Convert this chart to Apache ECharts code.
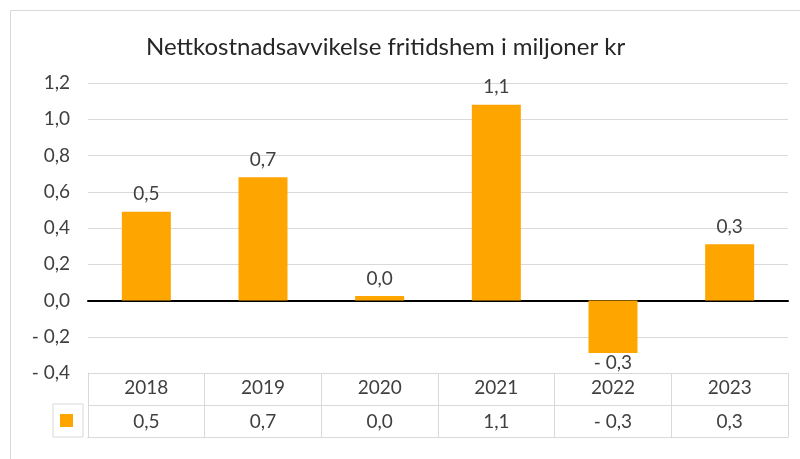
<!DOCTYPE html>
<html>
<head>
<meta charset="utf-8">
<script src="https://cdn.jsdelivr.net/npm/echarts@6/dist/echarts.min.js"></script>
<style>
  html, body { margin: 0; padding: 0; background: #fff; }
  #chart { width: 800px; height: 459px; }
</style>
</head>
<body>
<div id="chart"></div>
<script>
var years = ['2018', '2019', '2020', '2021', '2022', '2023'];
var values = [0.49, 0.68, 0.025, 1.08, -0.29, 0.31];
var yTicks = { min: -0.4, max: 1.2, step: 0.2 };

var FONT = 'Lato';
var TXT = '#404040';
var GRID = '#d9d9d9';
var BAR = '#FFA500';
var FS = 19;

// tall: "0,5", negative: "- 0,3"
function fmt(v) {
    var s = Math.abs(v).toFixed(1).replace('.', ',');
    return (v < -0.0001 ? '- ' : '') + s;
}

var myChart = echarts.init(document.getElementById('chart'));

var barData = values.map(function (v) {
    return { value: v, label: { position: v < 0 ? 'bottom' : 'top', distance: v < 0 ? 0 : 8 } };
});

var option = {
    backgroundColor: '#fff',
    animation: false,
    textStyle: { fontFamily: FONT },
    title: {
        text: 'Nettkostnadsavvikelse fritidshem i miljoner kr',
        left: 141,
        top: 30,
        textStyle: { fontFamily: FONT, fontSize: 24, fontWeight: 'normal', color: '#262626' }
    },
    legend: {
        left: 53,
        top: 404,
        padding: [10, 10, 10, 7],
        borderColor: GRID,
        borderWidth: 1,
        icon: 'rect',
        itemWidth: 13,
        itemHeight: 13,
        formatter: function () { return ''; },
        data: ['Netto']
    },
    graphic: [{
        type: 'rect',
        shape: { x: 10.5, y: 10.5, width: 820, height: 470 },
        style: { fill: 'none', stroke: GRID, lineWidth: 1 },
        silent: true
    }],
    grid: [
        { left: 88, right: 12, top: 83, bottom: 86 },
        { left: 88, right: 12, top: 373, height: 64 }
    ],
    xAxis: [
        {
            type: 'category', gridIndex: 0, data: years,
            axisLine: { onZero: true, lineStyle: { color: '#000', width: 2 } },
            axisTick: { show: false },
            axisLabel: { show: false }
        },
        {
            type: 'category', gridIndex: 1, data: years, position: 'top',
            axisLine: { show: true, lineStyle: { color: GRID } },
            axisTick: { show: false },
            splitLine: { show: true, lineStyle: { color: GRID } },
            axisLabel: { inside: true, margin: 5, fontSize: FS, color: TXT, fontFamily: FONT }
        },
        {
            type: 'category', gridIndex: 1, data: years, position: 'bottom',
            axisLine: { show: true, lineStyle: { color: GRID } },
            axisTick: { show: false },
            axisLabel: {
                inside: true, margin: 6, fontSize: FS, color: TXT, fontFamily: FONT,
                formatter: function (val, idx) { return fmt(values[idx]); }
            }
        }
    ],
    yAxis: [
        {
            type: 'value', gridIndex: 0,
            min: yTicks.min, max: yTicks.max, interval: yTicks.step,
            axisLine: { show: false },
            axisTick: { show: false },
            splitLine: { lineStyle: { color: GRID } },
            axisLabel: { margin: 18, fontSize: FS, color: TXT, fontFamily: FONT, formatter: fmt }
        },
        {
            type: 'value', gridIndex: 1, min: 0, max: 2, interval: 1,
            axisLine: { show: true, lineStyle: { color: GRID } },
            axisTick: { show: false },
            axisLabel: { show: false },
            splitLine: { show: true, lineStyle: { color: GRID } }
        }
    ],
    series: [{
        name: 'Netto',
        type: 'bar',
        xAxisIndex: 0,
        yAxisIndex: 0,
        barWidth: '42%',
        itemStyle: { color: BAR },
        data: barData,
        label: {
            show: true,
            fontSize: FS,
            color: TXT,
            fontFamily: FONT,
            formatter: function (p) { return fmt(p.value); }
        }
    }]
};

myChart.setOption(option);
</script>
</body>
</html>
